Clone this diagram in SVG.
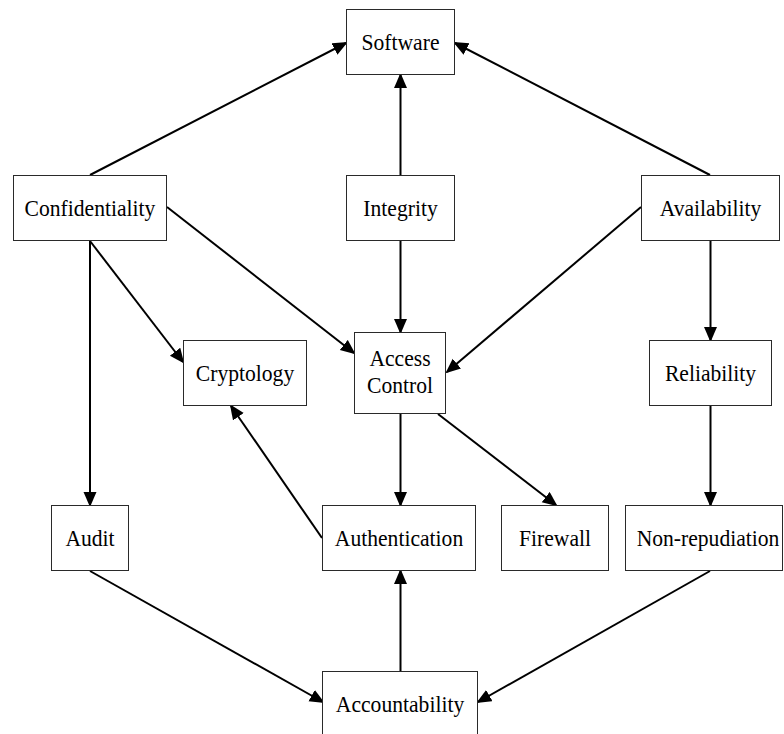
<svg xmlns="http://www.w3.org/2000/svg" width="784" height="734" viewBox="0 0 784 734">
  <style>
    .node rect { fill: #ffffff; stroke: #2a2a2a; stroke-width: 1; }
    .node text { font-family: "Liberation Serif", "Times New Roman", serif; font-size: 24px; fill: #000000; text-anchor: middle; }
    .edges path { fill: none; stroke: #000000; stroke-width: 2; marker-end: url(#arrow); }
  </style>
  <defs>
    <marker id="arrow" markerUnits="userSpaceOnUse" markerWidth="16" markerHeight="14" refX="13" refY="6.5" orient="auto">
      <path d="M0,0 L15,6.5 L0,13 z" fill="#000000"/>
    </marker>
  </defs>
  <rect width="784" height="734" fill="#ffffff"/>

  <!-- connectors -->
  <g id="edges" class="edges">
    <path d="M90,175 L346,43"/>
    <path d="M400.5,175 L400.5,75"/>
    <path d="M710,175 L455,43"/>
    <path d="M167,207 L354,353"/>
    <path d="M641,207 L447,372"/>
    <path d="M90,241 L90,505"/>
    <path d="M90,241 L183,362"/>
    <path d="M400.5,241 L400.5,332"/>
    <path d="M710.5,241 L710.5,340"/>
    <path d="M400.5,414 L400.5,505"/>
    <path d="M438,414 L556,505"/>
    <path d="M710.5,406 L710.5,505"/>
    <path d="M322,538 L231,406"/>
    <path d="M90,571 L323,702"/>
    <path d="M400.5,671 L400.5,571"/>
    <path d="M710,571 L478,702"/>
  </g>

  <!-- nodes: labels are set in a narrowed serif (90% horizontal scale) -->
  <g id="software" class="node">
    <rect x="346.5" y="9.5" width="108" height="65"/>
    <text transform="translate(400.5,50) scale(0.9,1)">Software</text>
  </g>
  <g id="confidentiality" class="node">
    <rect x="13.5" y="175.5" width="153" height="65"/>
    <text transform="translate(90,216) scale(0.9,1)">Confidentiality</text>
  </g>
  <g id="integrity" class="node">
    <rect x="346.5" y="175.5" width="108" height="65"/>
    <text transform="translate(400.5,216) scale(0.9,1)">Integrity</text>
  </g>
  <g id="availability" class="node">
    <rect x="641.5" y="175.5" width="138" height="65"/>
    <text transform="translate(710.5,216) scale(0.9,1)">Availability</text>
  </g>
  <g id="cryptology" class="node">
    <rect x="183.5" y="340.5" width="123" height="65"/>
    <text transform="translate(245,381) scale(0.9,1)">Cryptology</text>
  </g>
  <g id="access-control" class="node">
    <rect x="354.5" y="332.5" width="91" height="81"/>
    <text transform="translate(400,366) scale(0.9,1)">Access</text>
    <text transform="translate(400,393) scale(0.9,1)">Control</text>
  </g>
  <g id="reliability" class="node">
    <rect x="649.5" y="340.5" width="122" height="65"/>
    <text transform="translate(710.5,381) scale(0.9,1)">Reliability</text>
  </g>
  <g id="audit" class="node">
    <rect x="51.5" y="505.5" width="77" height="65"/>
    <text transform="translate(90,546) scale(0.9,1)">Audit</text>
  </g>
  <g id="authentication" class="node">
    <rect x="322.5" y="505.5" width="153" height="65"/>
    <text transform="translate(399,546) scale(0.9,1)">Authentication</text>
  </g>
  <g id="firewall" class="node">
    <rect x="501.5" y="505.5" width="107" height="65"/>
    <text transform="translate(555,546) scale(0.9,1)">Firewall</text>
  </g>
  <g id="non-repudiation" class="node">
    <rect x="625.5" y="505.5" width="157" height="65"/>
    <text transform="translate(708,546) scale(0.9,1)">Non-repudiation</text>
  </g>
  <g id="accountability" class="node">
    <rect x="322.5" y="671.5" width="155" height="65"/>
    <text transform="translate(400,712) scale(0.9,1)">Accountability</text>
  </g>
</svg>
